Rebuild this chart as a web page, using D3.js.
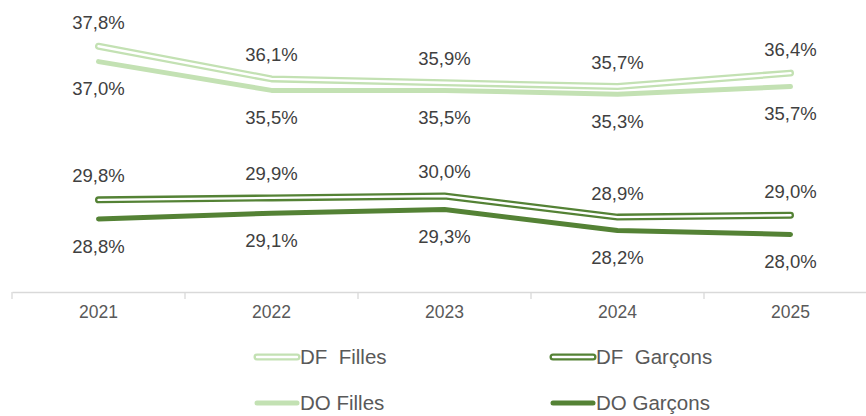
<!DOCTYPE html>
<html><head><meta charset="utf-8">
<script src="https://cdn.jsdelivr.net/npm/d3@7"></script>
<style>body{margin:0;background:#fff}svg{display:block}</style>
</head><body>
<svg id="c" width="866" height="416"></svg>
<script>
const years = ["2021","2022","2023","2024","2025"];
const dfFilles = [37.8, 36.1, 35.9, 35.7, 36.4];
const doFilles = [37.0, 35.5, 35.5, 35.3, 35.7];
const dfGarcons = [29.8, 29.9, 30.0, 28.9, 29.0];
const doGarcons = [28.8, 29.1, 29.3, 28.2, 28.0];

const light = "#c3e1b3", dark = "#548235";
const series = [
  {name:"DF  Filles", values: dfFilles, color: light, hollow:true, pos:"above"},
  {name:"DO Filles", values: doFilles, color: light, hollow:false, pos:"below"},
  {name:"DF  Garçons", values: dfGarcons, color: dark, hollow:true, pos:"above"},
  {name:"DO Garçons", values: doGarcons, color: dark, hollow:false, pos:"below"}
];

const svg = d3.select("#c");
const x = d3.scaleBand().domain(years).range([12, 877]);
const y = d3.scaleLinear().domain([25, 40]).range([292, 4]);

// axis
const axis = d3.axisBottom(x).tickSize(0).tickPadding(14);
const gA = svg.append("g").attr("transform","translate(0,292)").call(axis);
gA.select(".domain").attr("stroke","#d9d9d9").attr("stroke-width",1.3);
gA.selectAll("text").attr("font-family","Liberation Sans, Arial, sans-serif").attr("font-size",17.5).attr("fill","#595959");
const bounds = years.map(d => x(d)).concat([x.range()[1]]);
gA.selectAll(".bt").data(bounds).enter().append("line")
  .attr("x1", d=>d).attr("x2", d=>d).attr("y1",0).attr("y2",7)
  .attr("stroke","#d9d9d9").attr("stroke-width",1.3);

const cx = d => x(d) + x.bandwidth()/2;
const line = d3.line().x((d,i)=>cx(years[i])).y(d=>y(d));

series.forEach(s => {
  svg.append("path").attr("d", line(s.values)).attr("fill","none")
    .attr("stroke", s.color).attr("stroke-width", s.hollow ? 7 : 5)
    .attr("stroke-linecap","round").attr("stroke-linejoin","round");
  if (s.hollow) {
    svg.append("path").attr("d", line(s.values)).attr("fill","none")
      .attr("stroke","#fff").attr("stroke-width",2.4)
      .attr("stroke-linecap","round").attr("stroke-linejoin","round");
  }
  svg.append("g").selectAll("text").data(s.values).enter().append("text")
    .attr("x",(d,i)=>cx(years[i]))
    .attr("y", d => y(d) + (s.pos==="above" ? -24 : 27))
    .attr("dy","0.35em")
    .attr("text-anchor","middle")
    .attr("font-family","Liberation Sans, Arial, sans-serif")
    .attr("font-size",18.5).attr("fill","#404040")
    .text(d => d.toFixed(1).replace(".", ",") + "%");
});

// legend
const legendPos = [[255,357],[255,403],[551,357],[551,403]];
series.forEach((s,i) => {
  const [lx, ly] = legendPos[i];
  const g = svg.append("g").attr("transform",`translate(${lx},${ly})`);
  g.append("line").attr("x1",2).attr("x2",42).attr("y1",0).attr("y2",0)
    .attr("stroke", s.color).attr("stroke-width", s.hollow ? 7 : 5).attr("stroke-linecap","round");
  if (s.hollow) g.append("line").attr("x1",2).attr("x2",42).attr("y1",0).attr("y2",0)
    .attr("stroke","#fff").attr("stroke-width",2.4).attr("stroke-linecap","round");
  g.append("text").attr("x",45).attr("y",0).attr("dy","0.35em")
    .attr("font-family","Liberation Sans, Arial, sans-serif").attr("font-size",20.5)
    .attr("fill","#595959").style("white-space","pre").text(s.name);
});
</script>
</body></html>
